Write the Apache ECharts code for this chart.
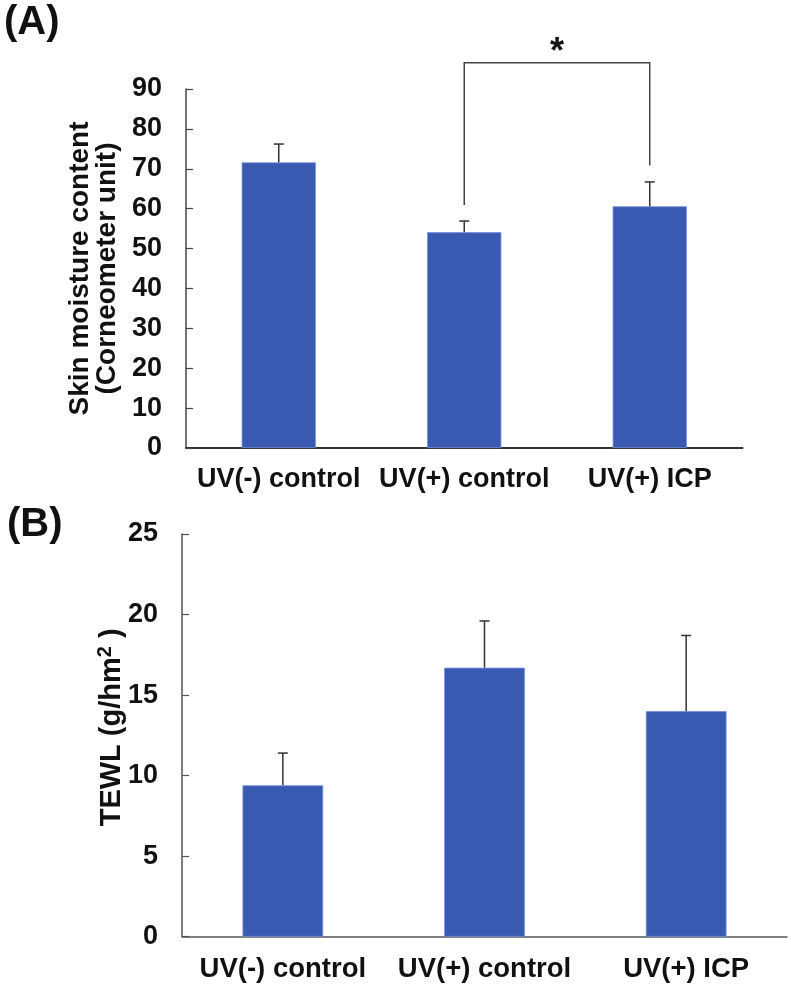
<!DOCTYPE html>
<html>
<head>
<meta charset="utf-8">
<script src="https://cdn.jsdelivr.net/npm/echarts@6/dist/echarts.min.js"></script>
<style>
html,body{margin:0;padding:0;background:#fff;}
#chart{width:791px;height:988px;}
</style>
</head>
<body>
<div id="chart"></div>
<script>
// ---- data ----
const categories = ['UV(-) control', 'UV(+) control', 'UV(+) ICP'];
const moistureMean = [71.6, 54.1, 60.6];
const moistureSD = [4.6, 2.8, 6.1];
const moistureTicks = [0, 10, 20, 30, 40, 50, 60, 70, 80, 90];
const tewlMean = [9.4, 16.7, 14.0];
const tewlSD = [2.0, 2.9, 4.7];
const tewlTicks = [0, 5, 10, 15, 20, 25];
// significance bracket: [fromIndex, toIndex, bracketLevel, leftLegBottom, rightLegBottom]
const sigBracket = [1, 2, 96.6, 60.9, 70.8];
const sigLabel = '*';

const FONT = 'Liberation Sans, Arial, sans-serif';
const barColor = '#3A59B0';
const txt = '#111';

const chart = echarts.init(document.getElementById('chart'), null, {renderer: 'canvas'});

function errRender(params, api) {
  const x = api.value(0), v = api.value(1), sd = api.value(2);
  const b = api.coord([x, v]);
  const t = api.coord([x, v + sd]);
  const st = {stroke: '#333', lineWidth: 1.5};
  return {type: 'group', children: [
    {type: 'line', shape: {x1: b[0], y1: b[1], x2: t[0], y2: t[1]}, style: st},
    {type: 'line', shape: {x1: t[0] - 5, y1: t[1], x2: t[0] + 5, y2: t[1]}, style: st}
  ]};
}

function bracketRender(params, api) {
  const i0 = api.value(0), i1 = api.value(1), lvl = api.value(2), l0 = api.value(3), l1 = api.value(4);
  const a = api.coord([i0, lvl]), b = api.coord([i1, lvl]);
  const a2 = api.coord([i0, l0]), b2 = api.coord([i1, l1]);
  const st = {stroke: '#444', lineWidth: 1.5, fill: null};
  return {type: 'group', children: [
    {type: 'polyline', shape: {points: [[a2[0], a2[1]], [a[0], a[1]], [b[0], b[1]], [b2[0], b2[1]]]}, style: st},
    {type: 'text', style: {text: sigLabel, x: (a[0] + b[0]) / 2, y: a[1] + 8, align: 'center', verticalAlign: 'bottom', font: 'bold 36px ' + FONT, fill: txt}}
  ]};
}

const tickLabel = {color: txt, fontSize: 27, fontWeight: 'bold', fontFamily: FONT, margin: 24};
const catLabelA = {color: txt, fontSize: 27, fontWeight: 'bold', fontFamily: FONT, margin: 18, interval: 0};
const catLabelB = {color: txt, fontSize: 27.5, fontWeight: 'bold', fontFamily: FONT, margin: 19, interval: 0};

chart.setOption({
  animation: false,
  backgroundColor: '#fff',
  title: [
    {text: '(A)', left: -1, top: -2, textStyle: {fontSize: 40, fontWeight: 'bold', fontFamily: FONT, color: txt}},
    {text: '(B)', left: 2, top: 500, textStyle: {fontSize: 40, fontWeight: 'bold', fontFamily: FONT, color: txt}}
  ],
  grid: [
    {left: 186, top: 89, width: 556.5, height: 359},
    {left: 182, top: 534, width: 605, height: 402.7}
  ],
  xAxis: [
    {type: 'category', gridIndex: 0, data: categories, boundaryGap: true,
     axisLine: {lineStyle: {color: '#333', width: 2}}, axisTick: {show: false}, axisLabel: catLabelA},
    {type: 'category', gridIndex: 1, data: categories, boundaryGap: true,
     axisLine: {lineStyle: {color: '#555', width: 1.5}}, axisTick: {show: false}, axisLabel: catLabelB}
  ],
  yAxis: [
    {type: 'value', gridIndex: 0, min: moistureTicks[0], max: moistureTicks[moistureTicks.length - 1], interval: moistureTicks[1] - moistureTicks[0],
     name: 'Skin moisture content\n(Corneometer unit)', nameLocation: 'middle', nameGap: 65, nameRotate: 90, nameMoveOverlap: false,
     nameTextStyle: {color: txt, fontSize: 28, fontWeight: 'bold', fontFamily: FONT, lineHeight: 27},
     axisLine: {show: true, lineStyle: {color: '#444', width: 1.5}},
     axisTick: {show: true, inside: true, length: 7, lineStyle: {color: '#444', width: 1.2}},
     axisLabel: tickLabel, splitLine: {show: false}},
    {type: 'value', gridIndex: 1, min: tewlTicks[0], max: tewlTicks[tewlTicks.length - 1], interval: tewlTicks[1] - tewlTicks[0],
     name: 'TEWL (g/hm{sup|2} )', nameLocation: 'middle', nameGap: 54, nameRotate: 90, nameMoveOverlap: false,
     nameTextStyle: {color: txt, fontSize: 29, fontWeight: 'bold', fontFamily: FONT, padding: [0, 0, 0, 16],
       rich: {sup: {fontSize: 20, fontWeight: 'bold', fontFamily: FONT, color: txt, verticalAlign: 'top', padding: [0, 0, 13, 0]}}},
     axisLine: {show: true, lineStyle: {color: '#555', width: 1.5}},
     axisTick: {show: true, inside: true, length: 7, lineStyle: {color: '#555', width: 1.2}},
     axisLabel: tickLabel, splitLine: {show: false}}
  ],
  series: [
    {type: 'bar', xAxisIndex: 0, yAxisIndex: 0, data: moistureMean, barWidth: '40%',
     itemStyle: {color: barColor, borderColor: '#6f8fe0', borderWidth: 0.8}, z: 2},
    {type: 'custom', xAxisIndex: 0, yAxisIndex: 0, renderItem: errRender,
     data: moistureMean.map((v, i) => [i, v, moistureSD[i]]), encode: {x: 0, y: 1}, z: 3, clip: false},
    {type: 'custom', xAxisIndex: 0, yAxisIndex: 0, renderItem: bracketRender,
     data: [sigBracket], encode: {x: 0, y: 2}, z: 3, clip: false},
    {type: 'bar', xAxisIndex: 1, yAxisIndex: 1, data: tewlMean, barWidth: '40%',
     itemStyle: {color: barColor, borderColor: '#6f8fe0', borderWidth: 0.8}, z: 2},
    {type: 'custom', xAxisIndex: 1, yAxisIndex: 1, renderItem: errRender,
     data: tewlMean.map((v, i) => [i, v, tewlSD[i]]), encode: {x: 0, y: 1}, z: 3, clip: false}
  ]
});
</script>
</body>
</html>
